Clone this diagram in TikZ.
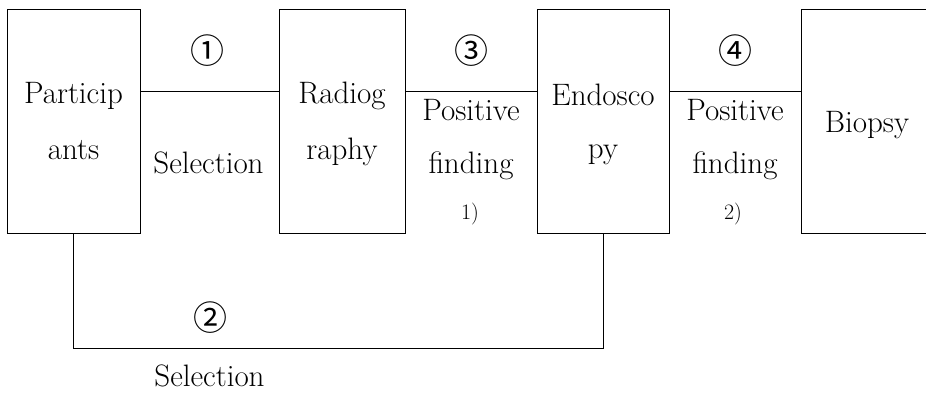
\documentclass[tikz,border=0pt]{standalone}
\usepackage{fontspec}
\newfontfamily\circfont{Noto Sans CJK KR}
\tikzset{
  box/.style={draw, line width=1pt, outer sep=0pt, inner sep=0pt},
  lbl/.style={font=\fontsize{31}{36}\selectfont, anchor=base, inner sep=0pt},
  small/.style={font=\fontsize{22}{26}\selectfont, anchor=base, inner sep=0pt},
  circ/.style={font=\circfont\fontsize{34}{38}\selectfont, anchor=center, inner sep=0pt},
  conn/.style={line width=1pt}
}
\begin{document}
\begin{tikzpicture}[x=1pt,y=-1pt]
\useasboundingbox (0,0) rectangle (926,392);
\clip (0,0) rectangle (926,392);
% boxes
\node[box, minimum width=133pt, minimum height=224pt] (p) at (73.5,121) {};
\node[box, minimum width=126pt, minimum height=224pt] (r) at (342,121) {};
\node[box, minimum width=132pt, minimum height=224pt] (e) at (603,121) {};
\node[box, minimum width=150pt, minimum height=224pt] (b) at (876,121) {};
\coordinate (h) at (0,91);
% connectors
\draw[conn] (p.east |- h) -- (r.west |- h);
\draw[conn] (r.east |- h) -- (e.west |- h);
\draw[conn] (e.east |- h) -- (b.west |- h);
\draw[conn] (p.south) -- ++(0,115) -| (e.south);
% box texts
\node[lbl] (p1) at (73.5,103) {Particip};
\node[lbl] (p2) at (73.5,159) {ants};
\node[lbl] (r1) at (342,103) {Radiog};
\node[lbl] (r2) at (342,159) {raphy};
\node[lbl] (e1) at (603,105) {Endosco};
\node[lbl] (e2) at (603,158) {py};
\node[lbl] (b1) at (867,132) {Biopsy};
% connector labels
\node[circ] (c1) at (207,51) {①};
\node[lbl] (s1) at (208.5,173) {Selection};
\node[circ] (c3) at (471,51) {③};
\node[lbl] (f1a) at (471,120) {Positive};
\node[lbl] (f1b) at (471,173) {finding};
\node[small] (n1) at (470,219) {1)};
\node[circ] (c4) at (735,51) {④};
\node[lbl] (f2a) at (735,120) {Positive};
\node[lbl] (f2b) at (735,173) {finding};
\node[small] (n2) at (733,219) {2)};
\node[circ] (c2) at (210,318) {②};
\node[lbl] (s2) at (209.5,386) {Selection};
\end{tikzpicture}
\end{document}
